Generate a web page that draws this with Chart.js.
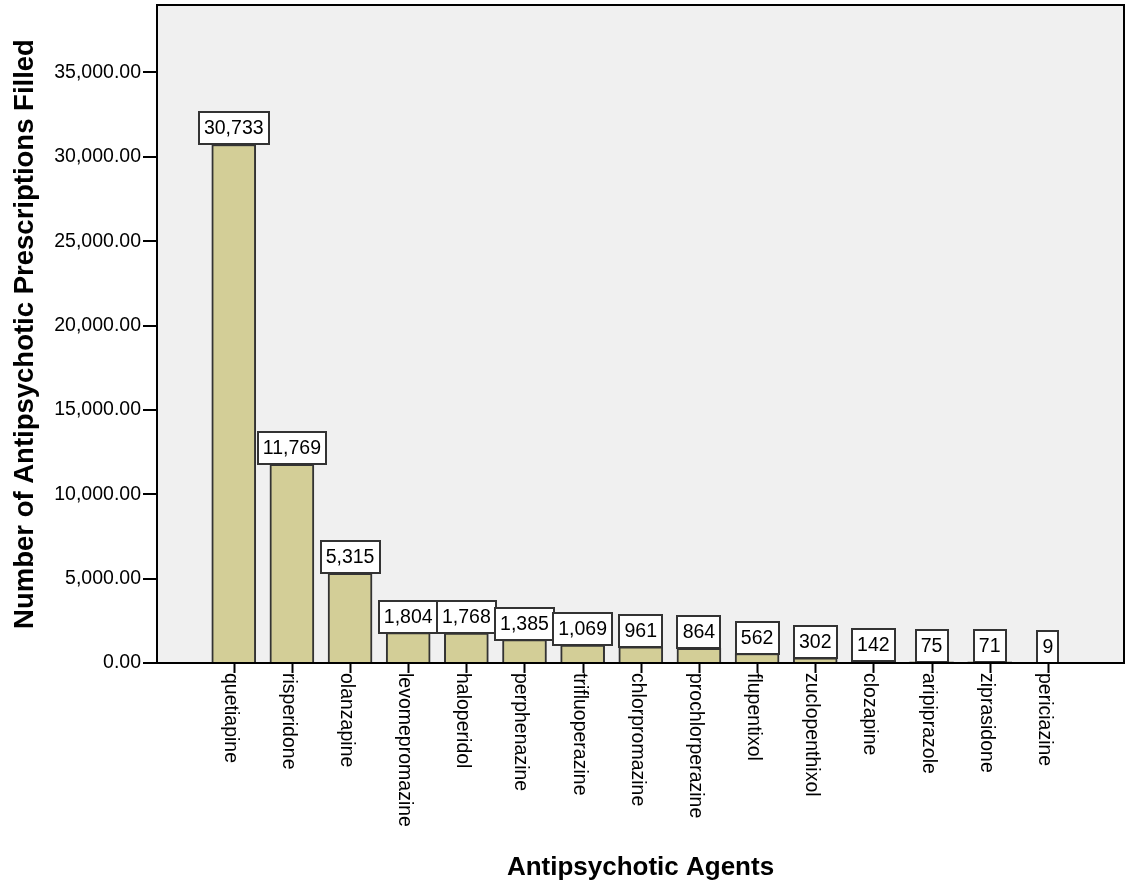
<!DOCTYPE html>
<html>
<head>
<meta charset="utf-8">
<script src="https://cdn.jsdelivr.net/npm/chart.js@4.4.1/dist/chart.umd.min.js"></script>
<style>
  html, body { margin: 0; padding: 0; background: #fff; }
  canvas { display: block; }
</style>
</head>
<body>
<canvas id="chart" width="1125" height="886"></canvas>
<script>
// Chart data
const agents = ['quetiapine', 'risperidone', 'olanzapine', 'levomepromazine', 'haloperidol',
  'perphenazine', 'trifluoperazine', 'chlorpromazine', 'prochlorperazine', 'flupentixol',
  'zuclopenthixol', 'clozapine', 'aripiprazole', 'ziprasidone', 'periciazine'];
const prescriptions = [30733, 11769, 5315, 1804, 1768, 1385, 1069, 961, 864, 562, 302, 142, 75, 71, 9];
const yTickValues = [0, 5000, 10000, 15000, 20000, 25000, 30000, 35000];
const yMax = 39000;
const xTitle = 'Antipsychotic Agents';
const yTitle = 'Number of Antipsychotic Prescriptions Filled';

const FONT = "'Liberation Sans', Arial, sans-serif";
const INK = '#000';

// Background, frame, value boxes, category labels and titles
const spssLook = {
  id: 'spssLook',
  beforeDraw(chart) {
    const { ctx, chartArea: a } = chart;
    ctx.save();
    ctx.fillStyle = '#f0f0f0';
    ctx.fillRect(a.left, a.top, a.right - a.left, a.bottom - a.top);
    ctx.restore();
  },
  afterDatasetsDraw(chart) {
    const { ctx } = chart;
    const meta = chart.getDatasetMeta(0);
    ctx.save();
    ctx.font = '19.5px ' + FONT;
    ctx.textAlign = 'center';
    ctx.textBaseline = 'middle';
    meta.data.forEach((bar, i) => {
      const txt = prescriptions[i].toLocaleString('en-US');
      const w = Math.round(ctx.measureText(txt).width + 10);
      const h = 32;
      const x0 = Math.round(bar.x - w / 2);
      const y0 = Math.round(bar.y - h);
      ctx.fillStyle = '#fff';
      ctx.fillRect(x0, y0, w, h);
      ctx.strokeStyle = '#333';
      ctx.lineWidth = 2;
      ctx.strokeRect(x0, y0, w, h);
      ctx.fillStyle = INK;
      ctx.fillText(txt, bar.x, y0 + h / 2 + 1);
    });
    ctx.restore();
  },
  afterDraw(chart) {
    const { ctx, chartArea: a } = chart;
    const xs = chart.scales.x;
    ctx.save();
    // frame + x axis line
    ctx.strokeStyle = '#000';
    ctx.lineWidth = 2;
    ctx.beginPath();
    ctx.moveTo(a.left, a.top);
    ctx.lineTo(a.right, a.top);
    ctx.lineTo(a.right, a.bottom);
    ctx.lineTo(a.left, a.bottom);
    ctx.stroke();

    // category ticks and rotated labels
    ctx.font = '19.5px ' + FONT;
    ctx.fillStyle = INK;
    ctx.textAlign = 'left';
    ctx.textBaseline = 'middle';
    agents.forEach((name, i) => {
      const x = Math.round(xs.getPixelForValue(i)) + 0.5;
      ctx.lineWidth = 2;
      ctx.beginPath();
      ctx.moveTo(x, a.bottom);
      ctx.lineTo(x, a.bottom + 10);
      ctx.stroke();
      ctx.save();
      ctx.translate(x - 4, a.bottom + 10);
      ctx.rotate(Math.PI / 2);
      ctx.fillText(name, 0, 0);
      ctx.restore();
    });

    // axis titles
    ctx.font = 'bold 26px ' + FONT;
    ctx.textAlign = 'center';
    ctx.textBaseline = 'alphabetic';
    ctx.fillText(xTitle, (a.left + a.right) / 2, 875);
    ctx.save();
    ctx.font = 'bold 27.5px ' + FONT;
    ctx.translate(33, (a.top + a.bottom) / 2);
    ctx.rotate(-Math.PI / 2);
    ctx.fillText(yTitle, 0, 0);
    ctx.restore();
    ctx.restore();
  }
};

new Chart(document.getElementById('chart'), {
  type: 'bar',
  data: {
    datasets: [{
      data: prescriptions.map((v, i) => ({ x: i, y: v })),
      backgroundColor: '#d3ce97',
      borderColor: '#333',
      borderWidth: 2,
      barThickness: 44
    }]
  },
  options: {
    responsive: false,
    animation: false,
    devicePixelRatio: 1,
    layout: { padding: { left: 0, top: 5, right: 1, bottom: 223 } },
    plugins: { legend: { display: false }, tooltip: { enabled: false } },
    scales: {
      x: {
        type: 'linear',
        display: false,
        offset: false,
        min: -1.32,
        max: 15.31
      },
      y: {
        min: 0,
        max: yMax,
        afterFit: (s) => { s.width = 157; s.paddingTop = 0; s.paddingBottom = 0; },
        afterBuildTicks: (s) => { s.ticks = yTickValues.map(v => ({ value: v })); },
        border: { display: true, color: '#000', width: 2 },
        grid: { display: true, drawOnChartArea: false, drawTicks: true, tickLength: 14, color: '#000', lineWidth: 2 },
        ticks: {
          padding: 2,
          color: INK,
          font: { family: FONT, size: 19.5 },
          callback: (v) => Number(v).toLocaleString('en-US', { minimumFractionDigits: 2, maximumFractionDigits: 2 })
        }
      }
    }
  },
  plugins: [spssLook]
});
</script>
</body>
</html>
